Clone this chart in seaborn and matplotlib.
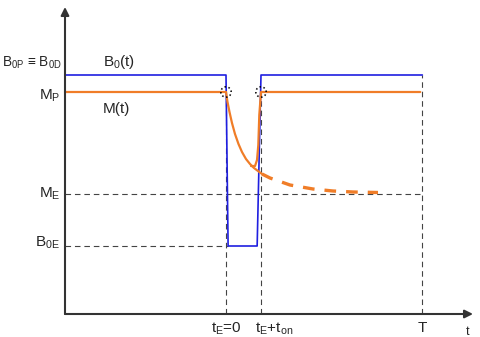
import numpy as np
import pandas as pd
import matplotlib
matplotlib.use('Agg')
import matplotlib.pyplot as plt
import seaborn as sns

# time axis (t_E = 0, t_on = 1), value axis arbitrary
t_axis = -4.6
t_on = 1.0
T = 5.61

B0P = 2.39
M_P = 2.22
M_E = 1.20
B0E = 0.68

# B0(t) field profile
b_t = [t_axis, 0.0, 0.06, 0.89, t_on, T]
b_v = [B0P, B0P, B0E, B0E, B0P, B0P]

# M(t) before the pulse
m_pre_t = [t_axis, 0.0]
m_pre_v = [M_P, M_P]

# M(t) decay during the pulse (solid part)
m_dec_t = [0.0, 0.043, 0.1, 0.171, 0.257, 0.357, 0.457, 0.571, 0.686, 0.8, 0.914, 1.029]
m_dec_v = [2.22, 2.12, 2.02, 1.91, 1.80, 1.70, 1.62, 1.55, 1.50, 1.46, 1.43, 1.40]

# continued decay (dashed)
m_tail_t = [1.029, 1.257, 1.829, 2.486, 3.057, 3.629, 4.343]
m_tail_v = [1.40, 1.36, 1.29, 1.25, 1.23, 1.22, 1.215]

# recovery after field returns
m_rec_t = [0.714, 0.829, 0.886, 0.923, 0.951, 1.0, 5.55]
m_rec_v = [1.48, 1.48, 1.54, 1.69, 1.99, 2.22, 2.22]

sns.set_style("white")
plt.rcParams['font.family'] = ['Liberation Sans', 'DejaVu Sans']

fig = plt.figure(figsize=(4.81, 3.37), dpi=100)
ax = fig.add_axes([0, 0, 1, 1])
ax.set_xlim(-226 / 35, (481 - 226) / 35)
ax.set_ylim((314 - 337) / 100, 314 / 100)
ax.axis('off')

blue = '#1f1fe0'
orange = '#f07d28'
gray = '#444444'

# guide lines
dash_kw = dict(color=gray, lw=0.8, dashes=(5, 3.5))
ax.plot([t_axis, T], [M_E, M_E], **dash_kw)
ax.plot([t_axis, 0.06], [B0E, B0E], **dash_kw)
ax.plot([0, 0], [0, M_P], **dash_kw)
ax.plot([t_on, t_on], [0, M_P], **dash_kw)
ax.plot([T, T], [0, B0P], **dash_kw)

sns.lineplot(x=b_t, y=b_v, sort=False, color=blue, lw=1.2, ax=ax)
sns.lineplot(x=m_pre_t, y=m_pre_v, sort=False, color=orange, lw=1.6, ax=ax)
sns.lineplot(x=m_dec_t, y=m_dec_v, sort=False, color=orange, lw=1.6, ax=ax)
sns.lineplot(x=m_rec_t, y=m_rec_v, sort=False, color=orange, lw=1.6, ax=ax)
ax.plot(m_tail_t, m_tail_v, color=orange, lw=2.4, dashes=(3.5, 3))

# dotted circles at switching points
ax.scatter([0, t_on], [M_P, M_P], s=55, facecolors='none', edgecolors='black',
           linewidths=1.1, linestyles=':', zorder=5)

# axes arrows
ax.annotate('', xy=(t_axis, 3.07), xytext=(t_axis, 0),
            arrowprops=dict(arrowstyle='-|>', color='#333333', lw=1.5,
                            mutation_scale=12, shrinkA=0, shrinkB=0))
ax.annotate('', xy=((473 - 226) / 35, 0), xytext=(t_axis, 0),
            arrowprops=dict(arrowstyle='-|>', color='#333333', lw=1.5,
                            mutation_scale=12, shrinkA=0, shrinkB=0))

fs = 11
xr = -4.74
ax.text(-4.68, 2.47, r'$\mathregular{B_{0P}}$ ≡ $\mathregular{B_{0D}}$', ha='right', va='baseline', fontsize=9.8)
ax.text(xr, 2.14, r'$\mathregular{M_P}$', ha='right', va='baseline', fontsize=fs)
ax.text(xr, 1.16, r'$\mathregular{M_E}$', ha='right', va='baseline', fontsize=fs)
ax.text(xr, 0.67, r'$\mathregular{B_{0E}}$', ha='right', va='baseline', fontsize=fs)
ax.text(-3.514, 2.48, r'$\mathregular{B_0(t)}$', ha='left', va='baseline', fontsize=fs)
ax.text(-3.514, 2.01, 'M(t)', ha='left', va='baseline', fontsize=fs)
ax.text(0, -0.19, r'$\mathregular{t_E}$=0', ha='center', va='baseline', fontsize=fs)
ax.text(0.83, -0.19, r'$\mathregular{t_E}$+$\mathregular{t_{on}}$', ha='left', va='baseline', fontsize=fs)
ax.text(T, -0.18, 'T', ha='center', va='baseline', fontsize=fs)
ax.text((468 - 226) / 35, -0.21, 't', ha='center', va='baseline', fontsize=9)

fig.savefig('out.png', dpi=100)
